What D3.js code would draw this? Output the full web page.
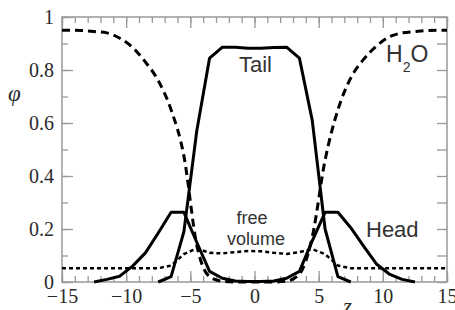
<!DOCTYPE html>
<html>
<head>
<meta charset="utf-8">
<script src="https://cdn.jsdelivr.net/npm/d3@7"></script>
<style>
  body { margin: 0; background: #fff; }
  .tick line { stroke: #999; stroke-width: 1.3; }
  .lbl { font-family: "Liberation Sans", Arial, sans-serif; fill: #333; }
</style>
</head>
<body>
<svg id="chart" width="455" height="310"></svg>
<script>
// volume fractions vs z
var waterZ = [-15, -14.5, -13.5, -12.5, -11.5, -10.5, -9.5, -8.5, -7.5, -6.5, -5.5, -4.5, -3.5, -2.5, -1.5, -0.5,
              0.5, 1.5, 2.5, 3.5, 4.5, 5.5, 6.5, 7.5, 8.5, 9.5, 10.5, 11.5, 12.5, 13.5, 14.5, 15];
var waterPhi = [0.95, 0.95, 0.949, 0.945, 0.94, 0.92, 0.885, 0.83, 0.76, 0.65, 0.475, 0.14, 0.02, 0.003, 0, 0,
                0, 0, 0.003, 0.03, 0.17, 0.46, 0.65, 0.77, 0.84, 0.89, 0.925, 0.94, 0.945, 0.949, 0.95, 0.95];

var tailZ = [-7.5, -6.5, -5.5, -4.5, -3.5, -2.5, -1.5, -0.5, 0.5, 1.5, 2.5, 3.5, 4.5, 5.5, 6.5, 7.5];
var tailPhi = [0, 0.02, 0.19, 0.57, 0.845, 0.886, 0.886, 0.882, 0.882, 0.885, 0.886, 0.845, 0.61, 0.2, 0.02, 0];

var headZ = [-12.5, -11.5, -10.5, -9.5, -8.5, -7.5, -6.5, -5.5, -4.5, -3.5, -2.5, -1.5, -0.5,
             0.5, 1.5, 2.5, 3.5, 4.5, 5.5, 6.5, 7.5, 8.5, 9.5, 10.5, 11.5, 12.5];
var headPhi = [0, 0.01, 0.022, 0.06, 0.11, 0.185, 0.263, 0.263, 0.15, 0.04, 0.014, 0.004, 0.002,
               0.002, 0.004, 0.014, 0.04, 0.155, 0.263, 0.263, 0.205, 0.135, 0.068, 0.03, 0.01, 0];

var freeZ = [-15, -7.5, -6.5, -5.5, -4.5, -3.5, -2.5, -1.5, -0.5, 0.5, 1.5, 2.5, 3.5, 4.5, 5.5, 6.5, 7.5, 15];
var freePhi = [0.052, 0.052, 0.062, 0.105, 0.127, 0.11, 0.108, 0.113, 0.117, 0.116, 0.11, 0.106, 0.113, 0.124, 0.105, 0.062, 0.052, 0.052];

var xTicks = [-15, -10, -5, 0, 5, 10, 15];
var yTicks = [0, 0.2, 0.4, 0.6, 0.8, 1];

var SERIF = "'Liberation Serif', 'Times New Roman', serif";

var svg = d3.select("#chart"),
    margin = {top: 17, right: 8, bottom: 28, left: 62},
    width = +svg.attr("width") - margin.left - margin.right,
    height = +svg.attr("height") - margin.top - margin.bottom;

var x = d3.scaleLinear().domain([-15, 15]).range([0, width]);
var y = d3.scaleLinear().domain([0, 1]).range([height, 0]);

var g = svg.append("g").attr("transform", "translate(" + margin.left + "," + margin.top + ")");

var xMinor = d3.range(-15, 16, 1);
var yMinor = d3.range(0, 11).map(function(i) { return i / 10; });

function clean(sel) {
  sel.select(".domain").remove();
  sel.attr("font-family", SERIF).attr("font-size", 20);
  sel.selectAll("text").attr("fill", "#2a2a2a");
}

// minor ticks
g.append("g").attr("transform", "translate(0," + height + ")")
  .call(d3.axisBottom(x).tickValues(xMinor).tickSize(-6).tickFormat("")).call(clean);
g.append("g")
  .call(d3.axisTop(x).tickValues(xMinor).tickSize(-6).tickFormat("")).call(clean);
g.append("g")
  .call(d3.axisLeft(y).tickValues(yMinor).tickSize(-6).tickFormat("")).call(clean);
g.append("g").attr("transform", "translate(" + width + ",0)")
  .call(d3.axisRight(y).tickValues(yMinor).tickSize(-10).tickFormat("")).call(clean);

// major ticks + labels
g.append("g").attr("transform", "translate(0," + height + ")")
  .call(d3.axisBottom(x).tickValues(xTicks).tickSize(-11).tickPadding(7).tickFormat(d3.format("d"))).call(clean);
g.append("g")
  .call(d3.axisTop(x).tickValues(xTicks).tickSize(-11).tickFormat("")).call(clean);
g.append("g")
  .call(d3.axisLeft(y).tickValues(yTicks).tickSize(-11).tickPadding(8).tickFormat(d3.format("~g"))).call(clean);

// frame
g.append("rect")
  .attr("width", width).attr("height", height)
  .attr("fill", "none").attr("stroke", "#999").attr("stroke-width", 1.5);

function series(zs, ps) {
  return zs.map(function(z, i) { return [z, ps[i]]; });
}

var line = d3.line().x(function(d) { return x(d[0]); }).y(function(d) { return y(d[1]); });
var smooth = d3.line().curve(d3.curveMonotoneX).x(function(d) { return x(d[0]); }).y(function(d) { return y(d[1]); });

g.append("path").datum(series(freeZ, freePhi))
  .attr("d", line).attr("fill", "none").attr("stroke", "#000")
  .attr("stroke-width", 2.5).attr("stroke-dasharray", "4,3");

g.append("path").datum(series(waterZ, waterPhi))
  .attr("d", smooth).attr("fill", "none").attr("stroke", "#000")
  .attr("stroke-width", 3).attr("stroke-dasharray", "8,5");

g.append("path").datum(series(headZ, headPhi))
  .attr("d", line).attr("fill", "none").attr("stroke", "#000")
  .attr("stroke-width", 3).attr("stroke-linejoin", "round");

g.append("path").datum(series(tailZ, tailPhi))
  .attr("d", line).attr("fill", "none").attr("stroke", "#000")
  .attr("stroke-width", 3).attr("stroke-linejoin", "round");

// axis titles
svg.append("text").attr("x", 8).attr("y", 101)
  .attr("font-family", SERIF).attr("font-style", "italic")
  .attr("font-size", 23).attr("fill", "#2a2a2a").text("φ");
svg.append("text").attr("x", 343).attr("y", 314)
  .attr("font-family", SERIF).attr("font-style", "italic")
  .attr("font-size", 23).attr("fill", "#2a2a2a").text("z");

// curve labels
svg.append("text").attr("class", "lbl").attr("x", 239).attr("y", 72)
  .style("font-size", "22px").text("Tail");
var h2o = svg.append("text").attr("class", "lbl").attr("x", 386).attr("y", 62).style("font-size", "23px");
h2o.append("tspan").text("H");
h2o.append("tspan").attr("dy", 10).style("font-size", "14px").text("2");
h2o.append("tspan").attr("dy", -10).text("O");
svg.append("text").attr("class", "lbl").attr("x", 366).attr("y", 237)
  .style("font-size", "22px").text("Head");
svg.append("text").attr("class", "lbl").attr("x", 252).attr("y", 224)
  .attr("text-anchor", "middle").style("font-size", "18px").text("free");
svg.append("text").attr("class", "lbl").attr("x", 256).attr("y", 245)
  .attr("text-anchor", "middle").style("font-size", "18px").text("volume");
</script>
</body>
</html>
